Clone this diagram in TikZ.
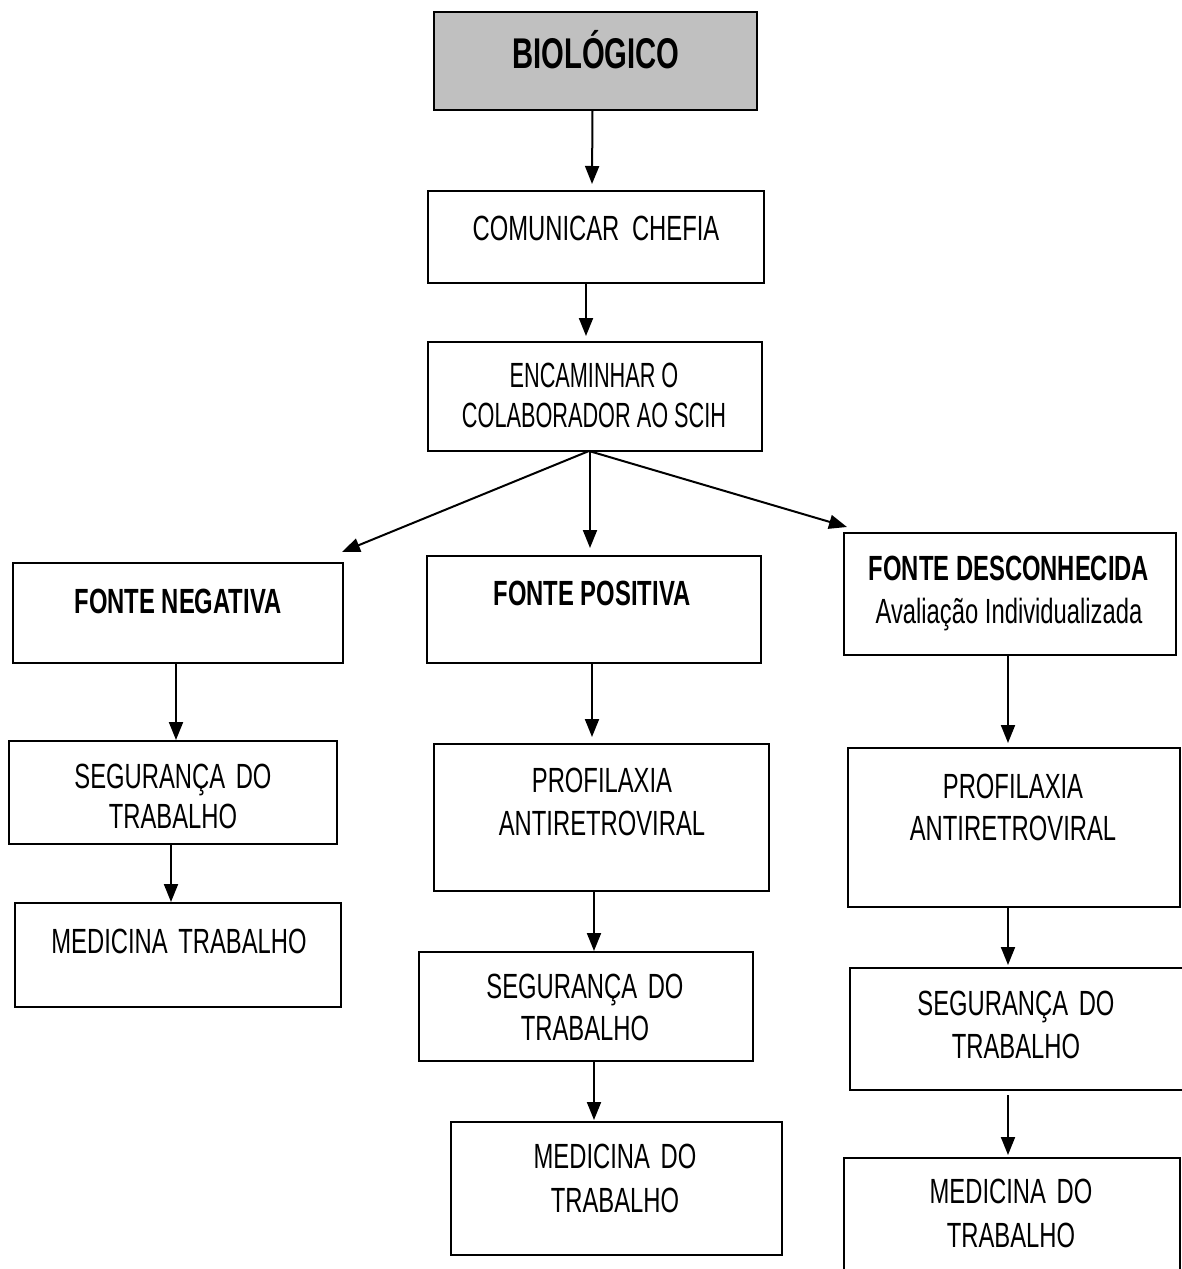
\documentclass[tikz,border=0pt]{standalone}
\usepackage{fontspec}
\setmainfont[FakeStretch=0.68]{Liberation Sans}
\newfontfamily\narrowfont[FakeStretch=0.62]{Liberation Sans}
\usetikzlibrary{arrows.meta}
\definecolor{biogray}{RGB}{192,192,192}
\begin{document}
\begin{tikzpicture}[x=1pt,y=-1pt,
  box/.style={draw=black, line width=2.5pt, inner sep=0pt, outer sep=0pt},
  lbl/.style={anchor=base, align=center, inner sep=0pt, font=\fontsize{35}{42}\selectfont},
  arr/.style={draw=black, line width=2pt, -{Triangle[length=18pt,width=14pt]}}]
\useasboundingbox (0,0) rectangle (1182,1269);
\clip (0,0) rectangle (1182,1269);
% boxes
\node[box, fill=biogray, minimum width=323pt, minimum height=98pt] (bio) at (595.5,61) {};
\node[box, minimum width=336pt, minimum height=92pt] (com) at (596,237) {};
\node[box, minimum width=334pt, minimum height=109pt] (enc) at (595,396.5) {};
\node[box, minimum width=330pt, minimum height=100pt] (fn) at (178,613) {};
\node[box, minimum width=334pt, minimum height=107pt] (fp) at (594,609.5) {};
\node[box, minimum width=332pt, minimum height=122pt] (fd) at (1010,594) {};
\node[box, minimum width=328pt, minimum height=103pt] (sl) at (173,792.5) {};
\node[box, minimum width=326pt, minimum height=104pt] (ml) at (178,955) {};
\node[box, minimum width=335pt, minimum height=147pt] (pm) at (601.5,817.5) {};
\node[box, minimum width=334pt, minimum height=109pt] (sm) at (586,1006.5) {};
\node[box, minimum width=331pt, minimum height=133pt] (mm) at (616.5,1188.5) {};
\node[box, minimum width=332pt, minimum height=159pt] (pr) at (1014,827.5) {};
\node[box, minimum width=335pt, minimum height=122pt] (sr) at (1017.5,1029) {};
\node[box, minimum width=336pt, minimum height=132pt] (mr) at (1012,1224) {};
% labels (anchor base = baseline of the last line)
\node[lbl, font=\fontsize{43}{50}\selectfont\bfseries] (tbio) at (596,68) {BIOLÓGICO};
\node[lbl] (tcom) at (596,240) {COMUNICAR\hspace{6pt} CHEFIA};
\node[lbl, font=\narrowfont\fontsize{35}{40}\selectfont] (tenc) at (594,427) {ENCAMINHAR O\\COLABORADOR AO SCIH};
\node[lbl, font=\fontsize{35}{42}\selectfont\bfseries] (tfn) at (178,613) {FONTE NEGATIVA};
\node[lbl, font=\fontsize{35}{42}\selectfont\bfseries] (tfp) at (592,605) {FONTE POSITIVA};
\node[lbl, font=\fontsize{35}{43}\selectfont] (tfd) at (1009,623) {\textbf{FONTE DESCONHECIDA}\\Avaliação Individualizada};
\node[lbl, font=\fontsize{35}{40}\selectfont] (tsl) at (173,828) {SEGURANÇA\hspace{4pt} DO\\TRABALHO};
\node[lbl] (tml) at (179,953) {MEDICINA\hspace{4pt} TRABALHO};
\node[lbl, font=\fontsize{35}{43}\selectfont] (tpm) at (602,835) {PROFILAXIA\\ANTIRETROVIRAL};
\node[lbl] (tsm) at (585,1040) {SEGURANÇA\hspace{4pt} DO\\TRABALHO};
\node[lbl, font=\fontsize{35}{44}\selectfont] (tmm) at (615,1212) {MEDICINA\hspace{4pt} DO\\TRABALHO};
\node[lbl] (tpr) at (1013,840) {PROFILAXIA\\ANTIRETROVIRAL};
\node[lbl, font=\fontsize{35}{43}\selectfont] (tsr) at (1016,1058) {SEGURANÇA\hspace{4pt} DO\\TRABALHO};
\node[lbl, font=\fontsize{35}{44}\selectfont] (tmr) at (1011,1247) {MEDICINA\hspace{4pt} DO\\TRABALHO};
% connectors
\draw[arr] ([xshift=-3pt]bio.south) -- ([xshift=-4pt,yshift=7pt]com.north);
\draw[arr] ([xshift=-10pt]com.south) -- ([xshift=-9pt,yshift=6pt]enc.north);
\draw[arr] ([xshift=-6pt]enc.south) -- ([xshift=-1pt,yshift=11pt]fn.north east);
\draw[arr] ([xshift=-5pt]enc.south) -- ([xshift=-4pt,yshift=8pt]fp.north);
\draw[arr] ([xshift=-6pt]enc.south) -- ([xshift=3pt,yshift=6pt]fd.north west);
\draw[arr] ([xshift=-2pt]fn.south) -- ([xshift=3pt,yshift=1pt]sl.north);
\draw[arr] ([xshift=-2pt]sl.south) -- ([xshift=-7pt,yshift=1pt]ml.north);
\draw[arr] ([xshift=-2pt]fp.south) -- ([xshift=-9.5pt,yshift=7pt]pm.north);
\draw[arr] ([xshift=-7.5pt]pm.south) -- ([xshift=8pt,yshift=1pt]sm.north);
\draw[arr] ([xshift=8pt]sm.south) -- ([xshift=-22.5pt,yshift=2pt]mm.north);
\draw[arr] ([xshift=-2pt]fd.south) -- ([xshift=-6pt,yshift=5pt]pr.north);
\draw[arr] ([xshift=-6pt]pr.south) -- ([xshift=-9.5pt,yshift=3pt]sr.north);
\draw[arr] ([xshift=-9.5pt,yshift=-5pt]sr.south) -- ([xshift=-4pt,yshift=3pt]mr.north);
\end{tikzpicture}
\end{document}
